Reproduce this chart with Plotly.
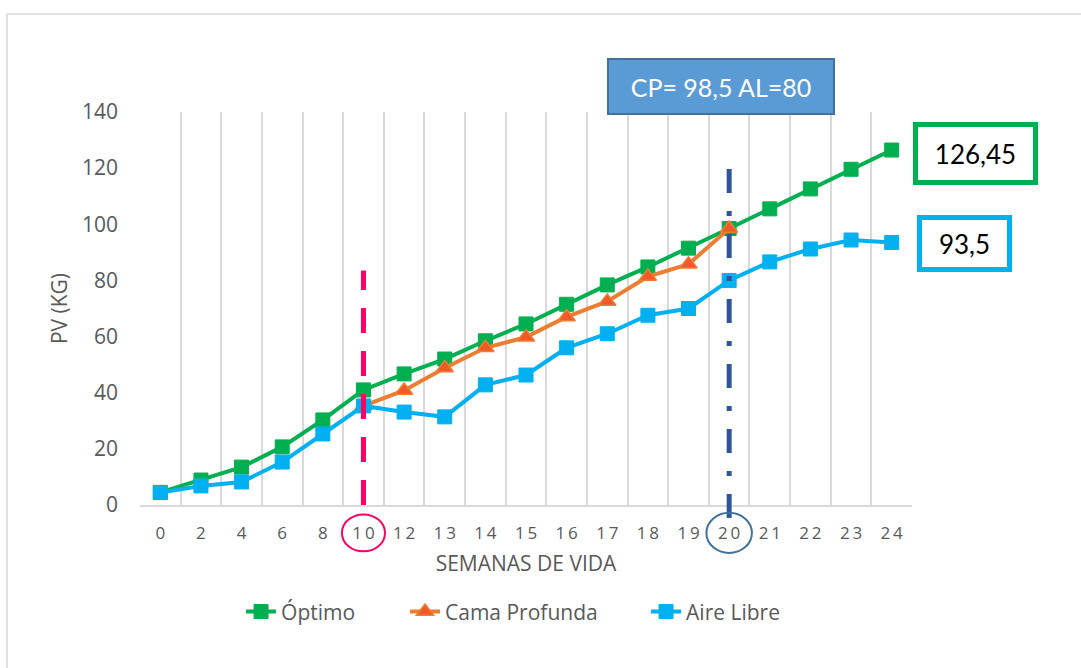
import plotly.graph_objects as go

# Weekly live weight (kg) per housing system
semanas = ["0", "2", "4", "6", "8", "10", "12", "13", "14", "15", "16",
           "17", "18", "19", "20", "21", "22", "23", "24"]
optimo = [4.5, 8.9, 13.5, 20.7, 30.3, 41.0, 46.7, 52.0, 58.5, 64.5, 71.5,
          78.4, 84.8, 91.5, 98.5, 105.5, 112.6, 119.6, 126.45]
cama_profunda = [None, None, None, None, None, 35.3, 40.8, 48.8, 56.0, 59.8,
                 67.0, 72.5, 81.4, 85.8, 98.5, None, None, None, None]
aire_libre = [4.4, 6.8, 8.2, 15.3, 25.3, 35.3, 33.1, 31.4, 42.8, 46.3, 56.0,
              61.0, 67.6, 70.0, 80.0, 86.6, 91.2, 94.4, 93.5]
y_ticks = [0, 20, 40, 60, 80, 100, 120, 140]

# Letter-spaced tick text, as in spreadsheet-style charts
tick_text = ["\u2009".join(s) for s in semanas]

GREEN = "#00B050"
ORANGE = "#ED7D31"
BLUE = "#00B0F0"
GRID = "#D9D9D9"
TEXT = "#595959"

fig = go.Figure()
fig.add_trace(go.Scatter(
    x=semanas, y=optimo, name="Óptimo", mode="lines+markers", legend="legend",
    line=dict(color=GREEN, width=4),
    marker=dict(symbol="square", size=14, color=GREEN, line=dict(color=GREEN, width=1)),
))
fig.add_trace(go.Scatter(
    x=semanas, y=cama_profunda, name="Cama Profunda", mode="lines+markers", legend="legend2",
    line=dict(color=ORANGE, width=4),
    marker=dict(symbol="triangle-up", size=15, color="#F05A28", line=dict(color=ORANGE, width=1.5)),
))
fig.add_trace(go.Scatter(
    x=semanas, y=aire_libre, name="Aire Libre", mode="lines+markers", legend="legend3",
    line=dict(color=BLUE, width=4),
    marker=dict(symbol="square", size=14, color=BLUE, line=dict(color=BLUE, width=1)),
))

i10 = semanas.index("10")
i20 = semanas.index("20")

shapes = [
    # week 10 marker line
    dict(type="line", xref="x", yref="y", x0=i10, x1=i10, y0=0, y1=83.5,
         line=dict(color="#FF0066", width=5, dash="25px,18px")),
    # week 20 marker line
    dict(type="line", xref="x", yref="paper", x0=i20, x1=i20, y0=-0.033, y1=0.865,
         line=dict(color="#2F5597", width=5, dash="24px,18px,5px,18px")),
    # circles around the highlighted tick labels
    dict(type="circle", xref="x", yref="paper", x0=i10 - 0.53, x1=i10 + 0.53,
         y0=-0.118, y1=-0.024, line=dict(color="#FF0066", width=2)),
    dict(type="circle", xref="x", yref="paper", x0=i20 - 0.56, x1=i20 + 0.56,
         y0=-0.122, y1=-0.02, line=dict(color="#41719C", width=2)),
    # chart frame
    dict(type="line", xref="paper", yref="paper", x0=-0.1723, x1=1.22, y0=1.2494, y1=1.2494,
         line=dict(color=GRID, width=1.5)),
    dict(type="line", xref="paper", yref="paper", x0=-0.1723, x1=-0.1723, y0=1.2494, y1=-0.42,
         line=dict(color=GRID, width=1.5)),
]

annotations = [
    dict(text="CP= 98,5 AL=80", xref="paper", yref="paper", x=0.7526, y=1.065,
         showarrow=False, font=dict(family="Lato", size=25, color="white"),
         bgcolor="#5B9BD5", bordercolor="#41719C", borderwidth=2,
         width=222, height=51, borderpad=1, xanchor="center", yanchor="middle"),
    dict(text="126,45", xref="paper", yref="paper", x=1.082, y=0.894,
         showarrow=False, font=dict(family="Lato", size=26, color="black"),
         bgcolor="white", bordercolor=GREEN, borderwidth=5,
         width=113, height=51, borderpad=1, xanchor="center", yanchor="middle"),
    dict(text="93,5", xref="paper", yref="paper", x=1.068, y=0.6654,
         showarrow=False, font=dict(family="Lato", size=26, color="black"),
         bgcolor="white", bordercolor=BLUE, borderwidth=5,
         width=83, height=45, borderpad=1, xanchor="center", yanchor="middle"),
]


def legend_box(x):
    return dict(orientation="h", x=x, xanchor="left", y=-0.272, yanchor="middle",
                font=dict(size=21, color=TEXT), bgcolor="rgba(0,0,0,0)")


fig.update_layout(
    width=1081, height=668,
    margin=dict(l=140, r=169, t=112, b=163),
    paper_bgcolor="white", plot_bgcolor="white",
    font=dict(family="Open Sans", color=TEXT, size=16),
    showlegend=True,
    legend=legend_box(0.1309),
    legend2=legend_box(0.3433),
    legend3=legend_box(0.6555),
    shapes=shapes,
    annotations=annotations,
    xaxis=dict(
        type="category", categoryorder="array", categoryarray=semanas,
        tickmode="array", tickvals=semanas, ticktext=tick_text,
        tickson="boundaries", showgrid=True, gridcolor=GRID, gridwidth=1.5,
        showline=True, linecolor=GRID, linewidth=2, ticks="",
        ticklabelstandoff=12, tickfont=dict(size=17, color=TEXT),
        range=[-0.5, len(semanas) - 0.5], zeroline=False,
        title=dict(text="SEMANAS DE VIDA", font=dict(size=21, color=TEXT), standoff=13),
    ),
    yaxis=dict(
        range=[0, 140], tickvals=y_ticks, showgrid=False, zeroline=False,
        showline=False, ticks="", ticklabelstandoff=21,
        tickfont=dict(size=21, color=TEXT),
        title=dict(text="PV (KG)", font=dict(size=21, color=TEXT), standoff=8),
    ),
)

fig.write_html("out.html")
